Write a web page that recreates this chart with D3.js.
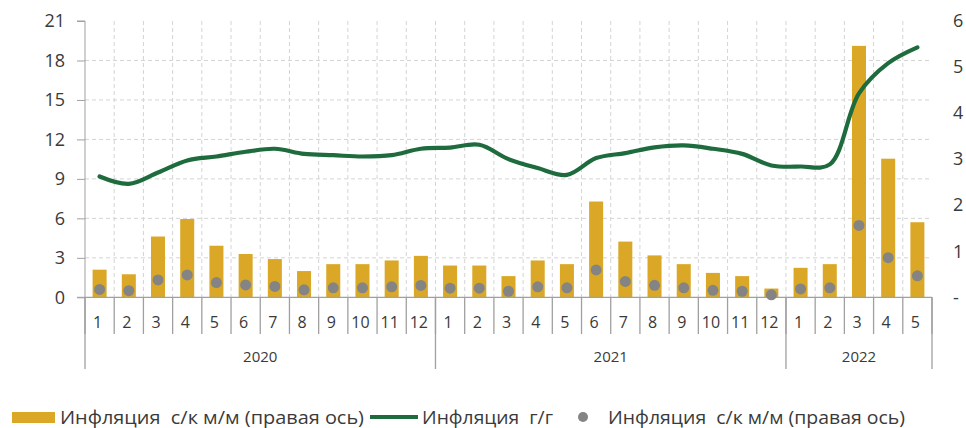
<!DOCTYPE html>
<html><head><meta charset="utf-8">
<script src="https://cdn.jsdelivr.net/npm/d3@7"></script>
<style>
html,body{margin:0;padding:0;background:#fff;overflow:hidden}
svg{display:block;font-family:"Open Sans","Noto Sans",sans-serif}
</style></head>
<body>
<svg id="chart" width="966" height="428"></svg>
<script>
const months = ["1","2","3","4","5","6","7","8","9","10","11","12","1","2","3","4","5","6","7","8","9","10","11","12","1","2","3","4","5"];
const yearLabels = ["2020","2021","2022"];
const yearCounts = [12,12,5];
// Инфляция с/к м/м (правая ось) — bars on right axis, dots drawn on left axis
const momValues = [0.60,0.50,1.32,1.70,1.12,0.94,0.83,0.57,0.72,0.72,0.80,0.90,
                   0.69,0.69,0.46,0.80,0.72,2.08,1.21,0.91,0.72,0.53,0.46,0.19,
                   0.64,0.72,5.46,3.01,1.63];
// Инфляция г/г — left axis
const yoyValues = [9.18,8.62,9.48,10.40,10.70,11.06,11.29,10.90,10.80,10.70,10.80,11.29,
                   11.38,11.59,10.50,9.82,9.30,10.58,10.96,11.39,11.54,11.29,10.90,10.02,
                   9.94,10.10,15.50,17.80,19.00];
const leftTicks = [0,3,6,9,12,15,18,21];
const rightTicks = [0,1,2,3,4,5,6];
const legendLabels = ["Инфляция  с/к м/м (правая ось)","Инфляция  г/г","Инфляция  с/к м/м (правая ось)"];

const svg = d3.select("#chart");
const L = 85, R = 932, T = 21, B = 297.3;
const idx = d3.range(months.length);
const x = d3.scaleBand().domain(idx).range([L, R]).padding(0);
const yL = d3.scaleLinear().domain([0,21]).range([B, T]);
const yR = d3.scaleLinear().domain([0,6]).range([B, T]);
const gridColor = "#d4d4d4", axisColor = "#a0a0a0", textColor = "#3a3a3a";
const barColor = "#DAA826", lineColor = "#1E6B3E", dotColor = "#848484";

// horizontal gridlines
svg.append("g").selectAll("line").data(leftTicks.filter(t => t > 0 && t < 21)).join("line")
  .attr("x1", L).attr("x2", R).attr("y1", d => yL(d)).attr("y2", d => yL(d))
  .attr("stroke", gridColor).attr("stroke-width", 1).attr("stroke-dasharray", "4,3");
// vertical gridlines at category boundaries
svg.append("g").selectAll("line").data(idx.slice(1)).join("line")
  .attr("x1", d => x(d)).attr("x2", d => x(d)).attr("y1", yL(21)).attr("y2", B)
  .attr("stroke", gridColor).attr("stroke-width", 1).attr("stroke-dasharray", "4,3");

// bars (right axis)
const bw = x.bandwidth() * 0.48;
svg.append("g").selectAll("rect").data(momValues).join("rect")
  .attr("x", (d,i) => x(i) + x.bandwidth()/2 - bw/2)
  .attr("width", bw)
  .attr("y", d => yR(d))
  .attr("height", d => B - yR(d))
  .attr("fill", barColor);

// left axis
const axL = svg.append("g").attr("transform", `translate(${L},0)`)
  .call(d3.axisLeft(yL).tickValues(leftTicks).tickSize(8).tickPadding(12).tickFormat(d3.format("d")));
axL.select(".domain").attr("stroke", axisColor).attr("d", `M-8,${yL(21)}H0V${B}H-8`);
axL.selectAll(".tick line").attr("stroke", axisColor);
axL.selectAll(".tick text").attr("fill", textColor).attr("font-size", 18).attr("font-family", "Open Sans");

// right axis
const axR = svg.append("g").attr("transform", `translate(950,0)`)
  .call(d3.axisRight(yR).tickValues(rightTicks).tickSize(0).tickPadding(3).tickFormat(d => d === 0 ? "-" : d3.format("d")(d)));
axR.select(".domain").remove();
axR.selectAll(".tick text").attr("fill", textColor).attr("font-size", 18).attr("font-family", "Open Sans");

// bottom axis line
svg.append("line").attr("x1", L).attr("x2", R).attr("y1", B).attr("y2", B)
  .attr("stroke", axisColor).attr("stroke-width", 1.3);
// month ticks
svg.append("g").selectAll("line").data(idx.concat([months.length])).join("line")
  .attr("x1", d => d < months.length ? x(d) : R).attr("x2", d => d < months.length ? x(d) : R)
  .attr("y1", B).attr("y2", 334)
  .attr("stroke", axisColor).attr("stroke-width", 1.3);
// month labels
svg.append("g").selectAll("text").data(months).join("text")
  .attr("x", (d,i) => x(i) + x.bandwidth()/2 - 2)
  .attr("y", 322).attr("dy", "0.35em").attr("text-anchor", "middle")
  .attr("font-size", 16).attr("fill", textColor).text(d => d);
// year separators and labels
let start = 0;
const yearBounds = [0];
yearCounts.forEach(c => { start += c; yearBounds.push(start); });
svg.append("g").selectAll("line").data(yearBounds).join("line")
  .attr("x1", d => d < months.length ? x(d) : R).attr("x2", d => d < months.length ? x(d) : R)
  .attr("y1", B).attr("y2", 369)
  .attr("stroke", axisColor).attr("stroke-width", 1.3);
svg.append("g").selectAll("text").data(yearLabels).join("text")
  .attr("x", (d,i) => {
    const a = x(yearBounds[i]);
    const b = yearBounds[i+1] < months.length ? x(yearBounds[i+1]) : R;
    return (a+b)/2;
  })
  .attr("y", 357).attr("dy", "0.35em").attr("text-anchor", "middle")
  .attr("font-size", 15).attr("fill", textColor).text(d => d);

// y/y line (left axis)
const line = d3.line().x((d,i) => x(i) + x.bandwidth()/2).y(d => yL(d)).curve(d3.curveCatmullRom.alpha(0.5));
svg.append("path").datum(yoyValues).attr("d", line)
  .attr("fill", "none").attr("stroke", lineColor).attr("stroke-width", 4.2)
  .attr("stroke-linecap", "round").attr("stroke-linejoin", "round");

// dots (same m/m values plotted on left axis)
svg.append("g").selectAll("circle").data(momValues).join("circle")
  .attr("cx", (d,i) => x(i) + x.bandwidth()/2)
  .attr("cy", d => yL(d))
  .attr("r", 5.5).attr("fill", dotColor);

// legend
const lg = svg.append("g");
lg.append("rect").attr("x", 12).attr("y", 412).attr("width", 43).attr("height", 11).attr("fill", barColor);
lg.append("text").attr("x", 60).attr("y", 418).attr("dy", "0.35em").attr("font-size", 18).attr("fill", textColor)
  .attr("textLength", 304).attr("lengthAdjust", "spacingAndGlyphs")
  .style("white-space", "pre").text(legendLabels[0]);
lg.append("line").attr("x1", 370).attr("x2", 418).attr("y1", 417).attr("y2", 417)
  .attr("stroke", lineColor).attr("stroke-width", 4.2);
lg.append("text").attr("x", 422).attr("y", 418).attr("dy", "0.35em").attr("font-size", 18).attr("fill", textColor)
  .attr("textLength", 131).attr("lengthAdjust", "spacingAndGlyphs")
  .style("white-space", "pre").text(legendLabels[1]);
lg.append("circle").attr("cx", 583).attr("cy", 417).attr("r", 5).attr("fill", dotColor);
lg.append("text").attr("x", 608).attr("y", 418).attr("dy", "0.35em").attr("font-size", 18).attr("fill", textColor)
  .attr("textLength", 297).attr("lengthAdjust", "spacingAndGlyphs")
  .style("white-space", "pre").text(legendLabels[2]);
</script>
</body></html>
